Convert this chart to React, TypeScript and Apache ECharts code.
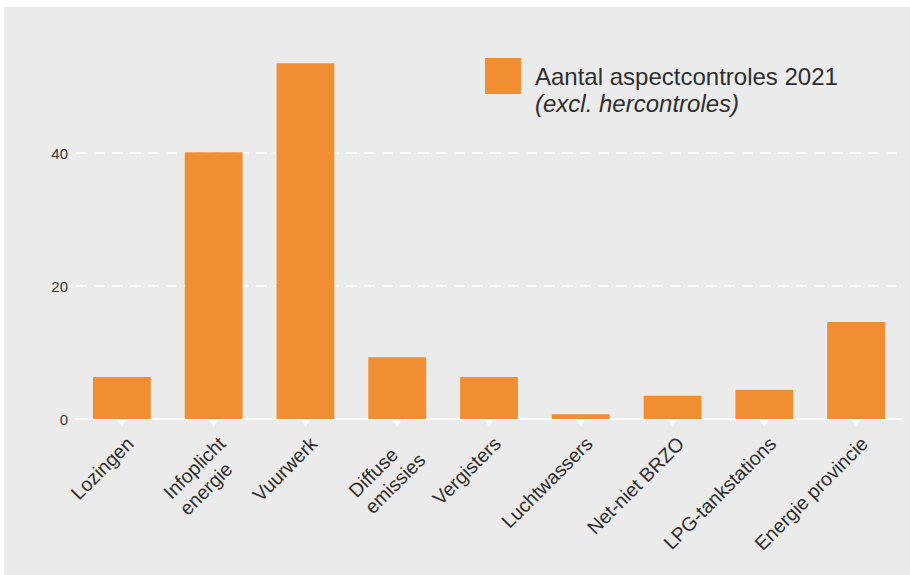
import React, { useEffect, useRef } from "react";
import * as echarts from "echarts";

const categories = [
  "Lozingen",
  "Infoplicht\nenergie",
  "Vuurwerk",
  "Diffuse\nemissies",
  "Vergisters",
  "Luchtwassers",
  "Net-niet BRZO",
  "LPG-tankstations",
  "Energie provincie",
];
const values = [6.3, 40.1, 53.5, 9.3, 6.3, 0.7, 3.5, 4.4, 14.6];
const tickMarks = [0, 0, 0, 0, 0, 0, 0, 0, 0];
const yTicks = { min: 0, max: 57, interval: 20 };
const seriesName = "Aantal aspectcontroles 2021";
const seriesNote = "(excl. hercontroles)";

const FONT = "Liberation Sans, Arial, sans-serif";
const TEXT = "#2e2e2e";
const ORANGE = "#f18e31";

export default function App() {
  const ref = useRef<HTMLDivElement>(null);
  useEffect(() => {
    if (!ref.current) return;
    const chart = echarts.init(ref.current, null, { renderer: "svg" });
    chart.setOption({
      animation: false,
      backgroundColor: "#ebebeb",
      textStyle: { fontFamily: FONT },
      grid: { left: 72, right: 8, top: 33, bottom: 156, containLabel: false },
      legend: {
        data: [seriesName],
        left: 476,
        top: 46,
        icon: "rect",
        itemWidth: 36,
        itemHeight: 36,
        selectedMode: false,
        textStyle: {
          fontSize: 24,
          lineHeight: 21,
          color: TEXT,
          fontFamily: FONT,
          padding: [0, 0, 0, 9],
        },
      },
      graphic: [
        {
          type: "text",
          left: 531,
          top: 84,
          silent: true,
          style: {
            text: seriesNote,
            fontSize: 24,
            lineHeight: 21,
            fontStyle: "italic",
            fontFamily: FONT,
            fill: TEXT,
          },
        },
      ],
      xAxis: {
        type: "category",
        data: categories,
        axisLine: { show: true, lineStyle: { color: "#ffffff", width: 2 } },
        axisTick: { show: false },
        splitLine: { show: false },
        axisLabel: {
          interval: 0,
          rotate: 45,
          margin: 13,
          align: "right",
          verticalAlign: "top",
          fontSize: 19.5,
          lineHeight: 23,
          color: TEXT,
          fontFamily: FONT,
          formatter: (v: string) =>
            v
              .split("\n")
              .map((s) => "{l|" + s + "}")
              .join("\n"),
          rich: {
            l: {
              align: "left",
              fontSize: 19.5,
              lineHeight: 23,
              color: TEXT,
              fontFamily: FONT,
            },
          },
        },
      },
      yAxis: {
        type: "value",
        min: yTicks.min,
        max: yTicks.max,
        interval: yTicks.interval,
        axisLine: { show: false },
        axisTick: { show: false },
        axisLabel: {
          showMaxLabel: false,
          fontSize: 15,
          color: "#3a3a3a",
          margin: 8,
          fontFamily: FONT,
        },
        splitLine: {
          show: true,
          showMinLine: false,
          showMaxLine: false,
          lineStyle: { color: "#ffffff", width: 2, type: [11, 7] },
        },
      },
      series: [
        {
          name: seriesName,
          type: "bar",
          data: values,
          barCategoryGap: "37%",
          itemStyle: { color: ORANGE },
          z: 3,
        },
        {
          name: "ticks",
          type: "scatter",
          data: tickMarks,
          symbol: "triangle",
          symbolRotate: 180,
          symbolSize: [10, 8],
          symbolOffset: [0, 4],
          itemStyle: { color: "#ffffff" },
          silent: true,
          z: 4,
        },
      ],
    });
    return () => chart.dispose();
  }, []);
  return (
    <div
      style={{
        position: "fixed",
        left: 0,
        top: 0,
        width: 910,
        height: 575,
        background: "#ffffff",
      }}
    >
      <div
        ref={ref}
        style={{ position: "absolute", left: 4, top: 7, width: 906, height: 568 }}
      />
    </div>
  );
}
